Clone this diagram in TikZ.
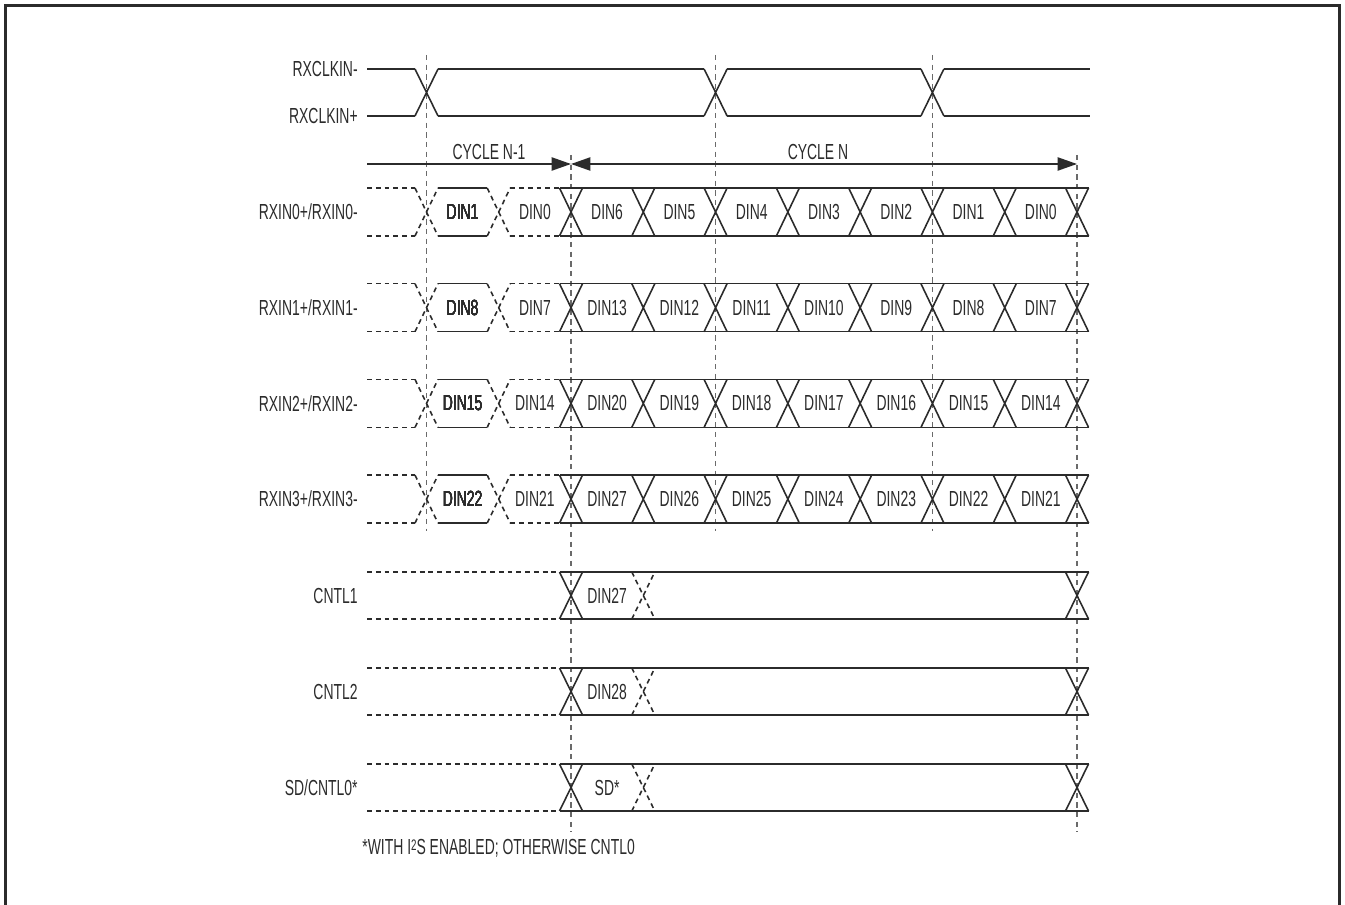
\documentclass[tikz,border=0pt]{standalone}
\usepackage{fontspec}
\setmainfont[FakeStretch=0.64]{Liberation Sans}
\usetikzlibrary{arrows.meta, positioning}
\definecolor{inkgray}{HTML}{2B2B2B}
\definecolor{guidegray}{HTML}{6A6A6A}
\tikzset{
	sigline/.style={line width=0.9pt, inkgray},
	sigdash/.style={sigline, dash pattern=on 2.8pt off 2.2pt}
}
\tikzset{
	guideline/.style={line width=0.7pt, guidegray, dash pattern=on 3pt off 2.5pt},
	cyclearrow/.style={line width=0.9pt, inkgray},
	rowlabel/.style={font=\fontsize{12.4}{14}\selectfont, text=inkgray, anchor=east, inner sep=0pt},
	bitlabel/.style={font=\fontsize{12.4}{14}\selectfont, text=inkgray, inner sep=0pt}
}
\newcommand{\crossat}[4][sigline]{\draw[#1] (#2-11.5,#3) -- (#2+11.5,#4) (#2-11.5,#4) -- (#2+11.5,#3);}

\begin{document}
\begin{tikzpicture}[x=0.02cm, y=-0.02cm]
      \useasboundingbox (0,0) rectangle (1345,905);
      \draw[line width=1.7pt, inkgray] (5.8,915) -- (5.8,5.8) -- (1339.6,5.8) -- (1339.6,915);
      \foreach \t in {426.5,715.6,932.4}
        \draw[guideline] (\t,55) -- (\t,531);
      \foreach \t in {571,1077}
        \draw[guideline] (\t,155) -- (\t,832);
      \node[rowlabel] (clkn) at (358,69) {RXCLKIN-};
      \node[rowlabel] (clkp) at (358,116) {RXCLKIN+};
      \foreach \y in {69,116}
        \draw[sigline] (367,\y) -- (415,\y) (438,\y) -- (704.1,\y) (727.1,\y) -- (920.9,\y) (943.9,\y) -- (1090,\y);
      \foreach \t in {426.5,715.6,932.4}
        \crossat{\t}{69}{116}
      \coordinate (cycstart) at (367,164);
      \coordinate (cycmid) at (571,164);
      \coordinate (cycend) at (1077,164);
      \draw[cyclearrow, -{Triangle[length=11pt,width=7.5pt]}] (cycstart) -- (cycmid);
      \draw[cyclearrow, {Triangle[length=11pt,width=7.5pt]}-{Triangle[length=11pt,width=7.5pt]}] (cycmid) -- (cycend);
      \node[bitlabel] (cycprev) at (489,152) {CYCLE N-1};
      \node[bitlabel] (cyccur) at (818,152) {CYCLE N};
      \foreach \n in {0,...,3} {
        \pgfmathsetmacro{\yt}{188+95.7*\n}
        \pgfmathsetmacro{\yb}{\yt+48}
        \pgfmathsetmacro{\ym}{\yt+24}
        \pgfmathtruncatemacro{\da}{7*\n+1}
        \pgfmathtruncatemacro{\db}{7*\n}
        \node[rowlabel] (rx\n) at (358,\ym) {RXIN\n+/RXIN\n-};
        \draw[sigdash] (367,\yt) -- (415,\yt) (367,\yb) -- (415,\yb) (510.2,\yt) -- (559.5,\yt) (510.2,\yb) -- (559.5,\yb);
        \crossat[sigdash]{426.5}{\yt}{\yb}
        \crossat[sigdash]{498.7}{\yt}{\yb}
        \draw[sigline] (438,\yt) -- (487.2,\yt) (438,\yb) -- (487.2,\yb);
        \draw[sigline] (559.5,\yt) -- (1088.5,\yt) (559.5,\yb) -- (1088.5,\yb);
        \foreach \k in {0,...,7}
          \crossat{571+72.29*\k}{\yt}{\yb}
        \node[bitlabel] (rx\n a) at (462.6,\ym) {DIN\da};
        \node[bitlabel] (rx\n b) at (534.9,\ym) {DIN\db};
        \foreach \k in {0,...,6} {
          \pgfmathtruncatemacro{\d}{7*\n+6-\k}
          \node[bitlabel] (rx\n d\k) at (607.1+72.29*\k,\ym) {DIN\d};
        }
      }
      \foreach \yt/\lbl/\val [count=\i] in {572/CNTL1/DIN27, 668/CNTL2/DIN28, 764/{SD/CNTL0*}/SD*} {
        \pgfmathsetmacro{\yb}{\yt+47}
        \pgfmathsetmacro{\ym}{\yt+23.5}
        \node[rowlabel] (ctl\i) at (358,\ym) {\lbl};
        \draw[sigdash] (367,\yt) -- (559.5,\yt) (367,\yb) -- (559.5,\yb);
        \draw[sigline] (559.5,\yt) -- (1088.5,\yt) (559.5,\yb) -- (1088.5,\yb);
        \crossat{571}{\yt}{\yb}
        \crossat[sigdash]{643.3}{\yt}{\yb}
        \crossat{1077}{\yt}{\yb}
        \node[bitlabel] (ctlv\i) at (607.1,\ym) {\val};
      }
      \node[rowlabel, anchor=west] (note) at (362,848) {*WITH I\raisebox{0.35ex}{\scalebox{0.7}{2}}S ENABLED; OTHERWISE CNTL0};
    \end{tikzpicture}
\end{document}
